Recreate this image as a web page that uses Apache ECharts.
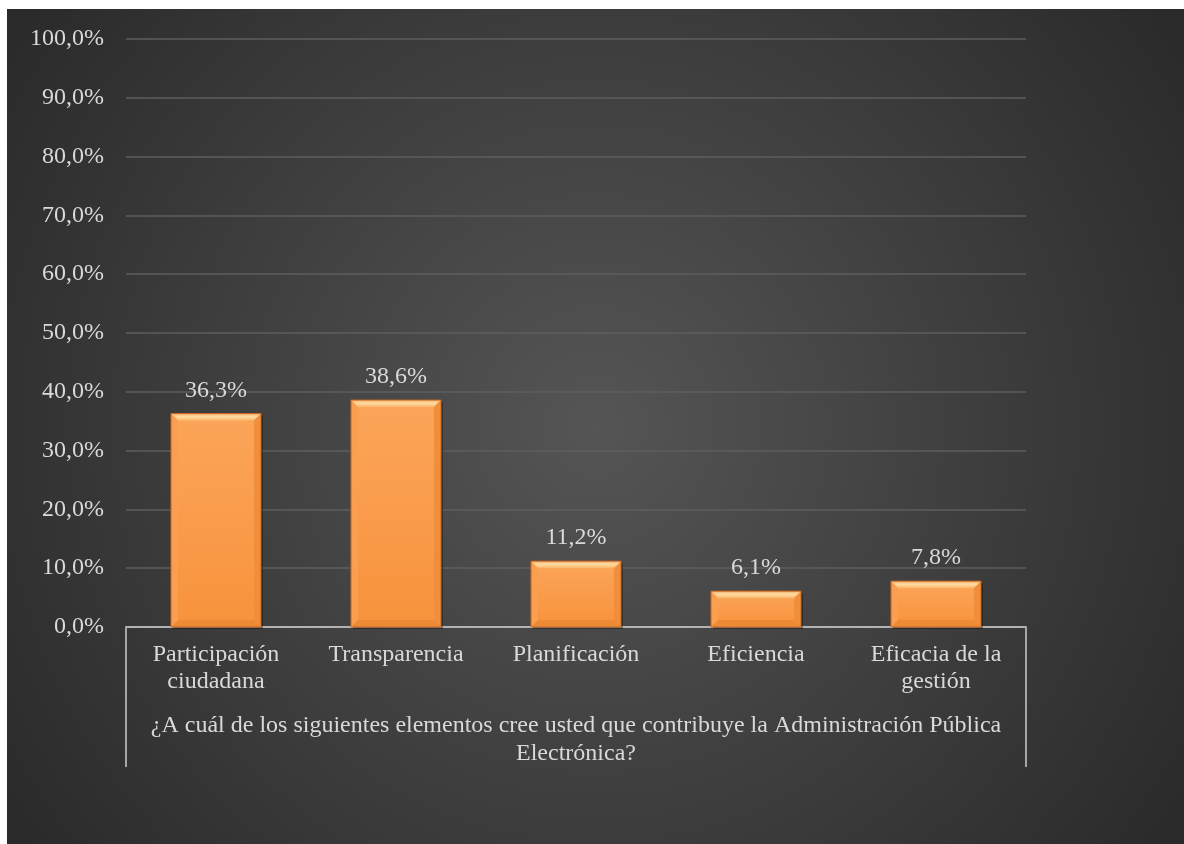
<!DOCTYPE html>
<html>
<head>
<meta charset="utf-8">
<script src="https://cdn.jsdelivr.net/npm/echarts@6/dist/echarts.min.js"></script>
<style>
html,body{margin:0;padding:0;background:#ffffff;}
#chart{width:1184px;height:844px;}
</style>
</head>
<body>
<div id="chart"></div>
<script>
const categories = ['Participación\nciudadana', 'Transparencia', 'Planificación', 'Eficiencia', 'Eficacia de la\ngestión'];
const values = [36.3, 38.6, 11.2, 6.1, 7.8];
const yTicks = { min: 0, max: 100, interval: 10 };
const axisTitle = '¿A cuál de los siguientes elementos cree usted que contribuye la Administración Pública\nElectrónica?';

const FONT = '"Liberation Serif", "Times New Roman", serif';
const TXT = '#d9d9d9';
const FS = 24;
const fmt = v => v.toFixed(1).replace('.', ',') + '%';

const chart = echarts.init(document.getElementById('chart'), null, { renderer: 'canvas' });

function renderBar(params, api) {
  const idx = api.value(0);
  const val = api.value(1);
  const top = api.coord([idx, val]);
  const base = api.coord([idx, 0]);
  const w = api.size([1, 0])[0] * 0.5;
  const x0 = top[0] - w / 2, x1 = top[0] + w / 2;
  const y0 = top[1], y1 = base[1];
  const h = y1 - y0;
  const b = Math.min(7, h / 2);
  return {
    type: 'group',
    children: [
      { type: 'rect', shape: { x: x0 + 2, y: y0 + 2, width: w, height: h }, style: { fill: 'rgba(0,0,0,0.35)' } },
      { type: 'rect', shape: { x: x0, y: y0, width: w, height: h },
        style: { fill: new echarts.graphic.LinearGradient(0, 0, 0, 1, [
          { offset: 0, color: '#fba55a' }, { offset: 1, color: '#f8923c' }]) } },
      { type: 'polygon', shape: { points: [[x0, y0], [x1, y0], [x1 - b, y0 + b], [x0 + b, y0 + b]] },
        style: { fill: new echarts.graphic.LinearGradient(0, 0, 0, 1, [
          { offset: 0, color: '#f9b06c' }, { offset: 0.45, color: '#fddca2' }, { offset: 1, color: '#fcb46a' }]) } },
      { type: 'polygon', shape: { points: [[x0, y1], [x1, y1], [x1 - b, y1 - b], [x0 + b, y1 - b]] },
        style: { fill: '#ec8a35' } },
      { type: 'polygon', shape: { points: [[x0, y0], [x0 + b, y0 + b], [x0 + b, y1 - b], [x0, y1]] },
        style: { fill: '#fa9e50' } },
      { type: 'polygon', shape: { points: [[x1, y0], [x1 - b, y0 + b], [x1 - b, y1 - b], [x1, y1]] },
        style: { fill: '#f08e3b' } },
      { type: 'rect', shape: { x: x0, y: y0, width: w, height: h },
        style: { fill: 'none', stroke: '#c8661f', lineWidth: 1 } },
      { type: 'text', style: { text: fmt(val), x: top[0], y: y0 - 11, align: 'center', verticalAlign: 'bottom',
        fill: TXT, font: FS + 'px ' + FONT } }
    ]
  };
}

const option = {
  backgroundColor: 'transparent',
  animation: false,
  graphic: [
    { type: 'rect', z: -10, shape: { x: 7, y: 9, width: 1177, height: 835 },
      style: { fill: new echarts.graphic.RadialGradient(0.5, 0.5, 0.85, [
        { offset: 0, color: '#555555' }, { offset: 1, color: '#2a2a2a' }]) } },
    { type: 'line', z: 5, shape: { x1: 126, y1: 627, x2: 126, y2: 767 }, style: { stroke: '#a6a6a6', lineWidth: 2 } },
    { type: 'line', z: 5, shape: { x1: 1026, y1: 627, x2: 1026, y2: 767 }, style: { stroke: '#a6a6a6', lineWidth: 2 } }
  ],
  grid: { left: 126, right: 158, top: 39, bottom: 217, containLabel: false },
  xAxis: {
    type: 'category',
    data: categories,
    axisLine: { show: true, lineStyle: { color: '#b3b3b3', width: 2 } },
    axisTick: { show: false },
    axisLabel: { color: TXT, fontFamily: FONT, fontSize: FS, lineHeight: 27, margin: 14, interval: 0 },
    name: axisTitle,
    nameLocation: 'middle',
    nameGap: 85,
    nameTextStyle: { color: TXT, fontFamily: FONT, fontSize: FS, lineHeight: 28 }
  },
  yAxis: {
    type: 'value',
    min: yTicks.min, max: yTicks.max, interval: yTicks.interval,
    axisLine: { show: false },
    axisTick: { show: false },
    axisLabel: { color: TXT, fontFamily: FONT, fontSize: FS, margin: 22, formatter: fmt },
    splitLine: { lineStyle: { color: '#5e5e5e', width: 1.5 } }
  },
  series: [{
    type: 'custom',
    renderItem: renderBar,
    encode: { x: 0, y: 1 },
    data: values.map((v, i) => [i, v])
  }]
};
chart.setOption(option);
</script>
</body>
</html>
